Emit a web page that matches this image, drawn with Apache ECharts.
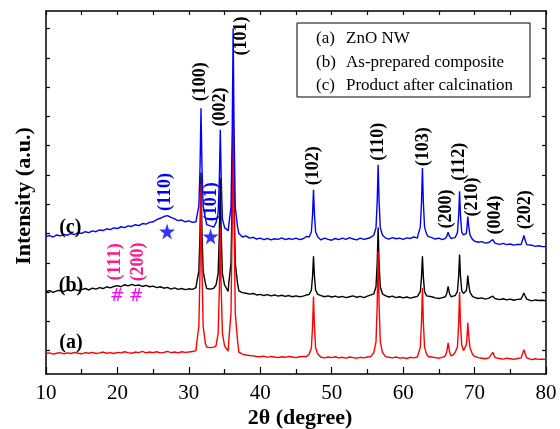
<!DOCTYPE html>
<html>
<head>
<meta charset="utf-8">
<script src="https://cdn.jsdelivr.net/npm/echarts@6/dist/echarts.min.js"></script>
<style>
  html, body { margin: 0; padding: 0; background: #fff; }
  #chart { width: 560px; height: 429px; }
</style>
</head>
<body>
<div id="chart"></div>
<script>
// 2theta sampling of the background (every 0.5 deg from 10 to 80)
const baseStart = 10
const baseStep = 0.5

// (a) ZnO NW - background
const baseA = [
  0.90,0.92,0.88,0.91,0.93,0.89,0.92,0.90,0.94,0.91,
  0.89,0.93,0.91,0.94,0.90,0.92,0.95,0.91,0.93,0.90,
  0.94,0.92,0.96,0.93,0.91,0.95,0.93,0.97,0.92,0.95,
  0.93,0.96,0.92,0.94,0.97,0.93,0.95,0.92,0.96,0.94,
  0.95,0.97,1.00,1.05,1.20,1.12,1.10,1.12,1.20,1.30,
  1.10,0.98,1.50,1.50,0.95,0.88,0.85,0.83,0.82,0.80,
  0.79,0.81,0.77,0.80,0.78,0.76,0.79,0.77,0.80,0.78,
  0.76,0.79,0.80,0.80,0.80,0.80,0.79,0.77,0.75,0.78,
  0.76,0.79,0.75,0.77,0.74,0.78,0.76,0.74,0.77,0.75,
  0.78,0.80,0.80,0.80,0.80,0.80,0.77,0.75,0.78,0.74,
  0.76,0.73,0.77,0.75,0.78,0.80,0.80,0.80,0.78,0.76,
  0.74,0.77,0.80,0.80,0.85,0.90,0.90,1.00,0.90,0.90,
  0.80,0.76,0.74,0.72,0.75,0.73,0.76,0.73,0.71,0.74,
  0.72,0.70,0.73,0.71,0.74,0.72,0.69,0.72,0.70,0.71,
  0.69
]
// (b) as-prepared composite - background
const baseB = [
  3.02,3.05,2.99,3.04,3.06,3.01,3.07,3.04,3.09,3.05,
  3.08,3.12,3.07,3.13,3.10,3.15,3.12,3.18,3.14,3.19,
  3.22,3.18,3.25,3.21,3.26,3.22,3.24,3.19,3.23,3.18,
  3.20,3.15,3.18,3.13,3.16,3.10,3.14,3.09,3.12,3.08,
  3.11,3.09,3.15,3.20,3.30,3.12,3.10,3.13,3.10,3.10,
  3.10,3.02,3.10,3.10,3.04,2.98,2.96,2.93,2.95,2.90,
  2.92,2.88,2.91,2.87,2.90,2.86,2.89,2.85,2.88,2.84,
  2.87,2.84,2.86,2.90,2.90,2.90,2.85,2.88,2.84,2.87,
  2.83,2.86,2.82,2.85,2.81,2.84,2.87,2.82,2.85,2.81,
  2.86,2.90,2.90,2.90,2.90,2.88,2.83,2.86,2.81,2.84,
  2.80,2.83,2.79,2.82,2.85,2.90,2.90,2.90,2.84,2.80,
  2.78,2.81,2.80,2.80,2.86,2.90,2.90,2.98,2.90,2.90,
  2.82,2.78,2.80,2.76,2.79,2.75,2.78,2.74,2.77,2.73,
  2.76,2.72,2.75,2.73,2.71,2.74,2.70,2.73,2.71,2.72,
  2.70
]
// (c) product after calcination - background
const baseC = [
  4.90,4.93,4.88,4.95,4.92,4.97,4.94,5.00,4.96,5.03,
  5.00,5.06,5.03,5.09,5.06,5.12,5.10,5.16,5.13,5.19,
  5.17,5.23,5.20,5.26,5.24,5.30,5.27,5.34,5.32,5.38,
  5.40,5.47,5.52,5.58,5.61,5.55,5.50,5.44,5.46,5.40,
  5.43,5.38,5.40,5.50,5.60,5.30,5.26,5.22,5.30,5.30,
  5.20,5.09,5.50,5.50,5.00,4.88,4.92,4.84,4.87,4.81,
  4.84,4.79,4.83,4.78,4.82,4.80,4.85,4.79,4.83,4.80,
  4.84,4.79,4.82,4.90,4.90,4.90,4.82,4.78,4.84,4.80,
  4.77,4.83,4.79,4.84,4.80,4.86,4.81,4.78,4.84,4.80,
  4.83,4.87,4.90,4.90,4.90,4.85,4.81,4.86,4.82,4.84,
  4.80,4.85,4.83,4.88,4.84,4.90,4.90,4.90,4.86,4.81,
  4.84,4.79,4.80,4.80,4.85,4.90,4.90,4.98,4.90,4.90,
  4.74,4.70,4.72,4.67,4.69,4.65,4.67,4.63,4.66,4.62,
  4.64,4.60,4.63,4.59,4.61,4.57,4.60,4.56,4.58,4.55,
  4.55
]

// reflections, read point by point: [2theta, intensity]
const peaksA = [
  [[31.1,1.26],[31.4,1.83],[31.57,3.84],[31.7,6.7],[31.83,3.84],[32.0,1.83],[32.3,1.26]],
  [[33.8,1.16],[34.1,1.59],[34.27,3.08],[34.4,5.2],[34.53,3.08],[34.7,1.59],[35.0,1.16]],
  [[35.6,1.37],[35.9,2.28],[36.07,5.46],[36.2,10.0],[36.33,5.46],[36.5,2.28],[36.8,1.37]],
  [[46.85,0.88],[47.15,1.09],[47.32,1.82],[47.45,2.85],[47.58,1.82],[47.75,1.09],[48.05,0.88]],
  [[55.9,0.94],[56.2,1.30],[56.37,2.58],[56.5,4.39],[56.63,2.58],[56.8,1.30],[57.1,0.94]],
  [[62.1,0.87],[62.4,1.11],[62.57,1.95],[62.7,3.14],[62.83,1.95],[63.0,1.11],[63.3,0.87]],
  [[65.9,0.82],[66.1,0.95],[66.3,1.26],[66.5,0.95],[66.7,0.82]],
  [[67.3,0.95],[67.6,1.12],[67.77,1.9],[67.9,3.0],[68.03,1.9],[68.2,1.2],[68.45,1.0]],
  [[68.6,0.95],[68.85,1.2],[68.95,1.5],[69.05,1.95],[69.18,1.5],[69.35,1.1],[69.7,0.88]],
  [[72.25,0.76],[72.55,0.94],[72.85,0.76]],
  [[76.5,0.75],[76.75,0.92],[76.9,1.03],[77.05,0.92],[77.3,0.75]]
]
const peaksB = [
  [[31.1,3.32],[31.4,3.71],[31.57,5.1],[31.7,7.08],[31.83,5.1],[32.0,3.71],[32.3,3.32]],
  [[33.8,3.24],[34.1,3.63],[34.27,4.98],[34.4,6.9],[34.53,4.98],[34.7,3.63],[35.0,3.24]],
  [[35.6,3.33],[35.9,3.99],[36.07,6.3],[36.2,9.6],[36.33,6.3],[36.5,3.99],[36.8,3.33]],
  [[46.85,2.92],[47.15,3.06],[47.32,3.54],[47.45,4.22],[47.58,3.54],[47.75,3.06],[48.05,2.92]],
  [[55.9,2.94],[56.2,3.18],[56.37,4.0],[56.5,5.2],[56.63,4.0],[56.8,3.18],[57.1,2.94]],
  [[62.1,2.87],[62.4,3.01],[62.57,3.51],[62.7,4.22],[62.83,3.51],[63.0,3.01],[63.3,2.87]],
  [[65.9,2.84],[66.1,2.94],[66.3,3.19],[66.5,2.94],[66.7,2.84]],
  [[67.3,2.88],[67.6,3.02],[67.77,3.54],[67.9,4.28],[68.03,3.54],[68.2,3.05],[68.45,2.95]],
  [[68.6,2.9],[68.85,3.05],[68.95,3.25],[69.05,3.56],[69.18,3.25],[69.35,3.0],[69.7,2.85]],
  [[72.25,2.78],[72.55,2.86],[72.85,2.78]],
  [[76.5,2.76],[76.75,2.88],[76.9,2.97],[77.05,2.88],[77.3,2.76]]
]
const peaksC = [
  [[31.1,5.55],[31.4,5.94],[31.57,7.32],[31.7,9.28],[31.83,7.32],[32.0,5.94],[32.3,5.55]],
  [[33.8,5.37],[34.1,5.7],[34.27,6.87],[34.4,8.54],[34.53,6.87],[34.7,5.5],[35.0,5.2]],
  [[35.6,5.3],[35.9,5.9],[36.07,8.5],[36.2,12.01],[36.33,8.5],[36.5,5.9],[36.8,5.25]],
  [[46.85,4.88],[47.15,5.05],[47.32,5.65],[47.45,6.49],[47.58,5.65],[47.75,5.05],[48.05,4.88]],
  [[55.9,4.95],[56.2,5.2],[56.37,6.1],[56.5,7.35],[56.63,6.1],[56.8,5.2],[57.1,4.95]],
  [[62.1,4.97],[62.4,5.21],[62.57,6.05],[62.7,7.24],[62.83,6.05],[63.0,5.21],[63.3,4.97]],
  [[65.9,4.83],[66.1,4.9],[66.3,5.04],[66.5,4.9],[66.7,4.83]],
  [[67.3,4.86],[67.6,5.03],[67.77,5.6],[67.9,6.44],[68.03,5.6],[68.2,5.05],[68.45,4.95]],
  [[68.6,4.9],[68.85,5.0],[68.95,5.25],[69.05,5.58],[69.18,5.25],[69.35,4.95],[69.7,4.8]],
  [[72.25,4.67],[72.55,4.79],[72.85,4.67]],
  [[76.5,4.62],[76.75,4.8],[76.9,4.93],[77.05,4.8],[77.3,4.62]]
]

// peak labels: [text, 2theta, intensity, colour]
const hklLabels = [
  ['(100)', 31.57, 10.18, '#000'],
  ['(002)', 34.37, 9.32, '#000'],
  ['(101)', 37.38, 11.75, '#000'],
  ['(102)', 47.4, 7.31, '#000'],
  ['(110)', 56.5, 8.13, '#000'],
  ['(103)', 62.8, 7.96, '#000'],
  ['(200)', 66.03, 5.84, '#000'],
  ['(112)', 67.85, 7.45, '#000'],
  ['(210)', 69.67, 6.25, '#000'],
  ['(004)', 72.89, 5.63, '#000'],
  ['(202)', 77.1, 5.81, '#000'],
  ['(110)', 26.67, 6.42, '#0000ff'],
  ['(101)', 33.18, 6.08, '#0000ff'],
  ['(111)', 19.67, 4.03, '#ff1a8c'],
  ['(200)', 22.89, 4.03, '#ff1a8c']
]
const hashMarks = [[19.95, 2.83], [22.6, 2.83]]
const starMarks = [[26.95, 5.07], [33.04, 4.9]]
const curveTags = [['(a)', 13.5, 1.26], ['(b)', 13.5, 3.21], ['(c)', 13.4, 5.19]]
const legendRows = [['(a)', 'ZnO NW'], ['(b)', 'As-prepared composite'], ['(c)', 'Product after calcination']]

const xTicks = [10, 80, 10]
const yMin = 0.2, yMax = 12.6
const yTicks = [1, 2, 3, 4, 5, 6, 7, 8, 9, 10, 11, 12]

const serif = "'Liberation Serif', 'Times New Roman', serif"

function buildCurve (base, peaks) {
  let wins = peaks.map(p => [p[0][0], p[p.length - 1][0]])
  let pts = base.map((y, i) => [baseStart + i * baseStep, y])
    .filter(p => !wins.some(w => p[0] >= w[0] && p[0] <= w[1]))
  peaks.forEach(p => { pts = pts.concat(p) })
  return pts.sort((a, b) => a[0] - b[0])
}

let chart = echarts.init(document.getElementById('chart'))

let lineSeries = (name, data, color) => ({
  name: name,
  type: 'line',
  data: data,
  showSymbol: false,
  symbol: 'none',
  sampling: false,
  lineStyle: { color: color, width: 1.4 },
  silent: true
})

let axisLine = { show: true, onZero: false, lineStyle: { color: '#000', width: 1.5 } }

chart.setOption({
  animation: false,
  backgroundColor: '#fff',
  grid: { left: 46, right: 14, top: 11, bottom: 55 },
  xAxis: [
    {
      type: 'value', position: 'bottom',
      min: xTicks[0], max: xTicks[1], interval: xTicks[2],
      axisLine: axisLine,
      axisTick: { inside: true, length: 7, lineStyle: { color: '#000', width: 1.2 } },
      minorTick: { show: true, splitNumber: 2, length: 5, lineStyle: { color: '#000', width: 1.2 } },
      axisLabel: { color: '#000', fontFamily: serif, fontSize: 21, margin: 9 },
      splitLine: { show: false }
    },
    {
      type: 'value', position: 'top',
      min: xTicks[0], max: xTicks[1], interval: xTicks[2] / 2,
      axisLine: axisLine,
      axisTick: { inside: true, length: 4, lineStyle: { color: '#000', width: 1.2 } },
      axisLabel: { show: false },
      splitLine: { show: false }
    }
  ],
  yAxis: [
    {
      type: 'value', position: 'left', min: yMin, max: yMax,
      axisLine: axisLine,
      axisTick: { inside: true, length: 4, customValues: yTicks, lineStyle: { color: '#000', width: 1.2 } },
      axisLabel: { show: false },
      splitLine: { show: false }
    },
    {
      type: 'value', position: 'right', min: yMin, max: yMax,
      axisLine: axisLine,
      axisTick: { inside: true, length: 4, customValues: yTicks, lineStyle: { color: '#000', width: 1.2 } },
      axisLabel: { show: false },
      splitLine: { show: false }
    }
  ],
  series: [
    lineSeries('b', buildCurve(baseB, peaksB), '#000000'),
    lineSeries('a', buildCurve(baseA, peaksA), '#ff0000'),
    lineSeries('c', buildCurve(baseC, peaksC), '#0000ff'),
    {
      type: 'scatter',
      data: starMarks,
      symbol: 'path://M50,0 L61,35 L98,35 L68,57 L79,91 L50,70 L21,91 L32,57 L2,35 L39,35 Z',
      symbolSize: 16,
      itemStyle: { color: '#0000ff' },
      silent: true,
      z: 5
    }
  ]
})

// texts placed from data coordinates
let toPx = (x, y) => chart.convertToPixel({ xAxisIndex: 0, yAxisIndex: 0 }, [x, y])
let graphics = []
hklLabels.forEach(l => {
  let p = toPx(l[1], l[2])
  graphics.push({
    type: 'text', x: p[0], y: p[1], rotation: Math.PI / 2, z: 10,
    style: { text: l[0], fill: l[3], font: 'bold 18px ' + serif, align: 'center', verticalAlign: 'middle' }
  })
})
hashMarks.forEach(h => {
  let p = toPx(h[0], h[1])
  graphics.push({
    type: 'text', x: p[0], y: p[1], z: 10,
    style: { text: '#', fill: '#ff00ff', font: '17px DejaVu Sans', align: 'center', verticalAlign: 'middle' }
  })
})
curveTags.forEach(t => {
  let p = toPx(t[1], t[2])
  graphics.push({
    type: 'text', x: p[0], y: p[1], z: 10,
    style: { text: t[0], fill: '#000', font: 'bold 20px ' + serif, align: 'center', verticalAlign: 'middle' }
  })
})
// legend box
graphics.push({
  type: 'rect', shape: { x: 297, y: 23, width: 233, height: 74 }, z: 10,
  style: { fill: '#fff', stroke: '#000', lineWidth: 1 }
})
legendRows.forEach((r, i) => {
  graphics.push({
    type: 'text', x: 316, y: 39 + i * 23.5, z: 11,
    style: { text: r[0], fill: '#000', font: '17px ' + serif, verticalAlign: 'middle' }
  })
  graphics.push({
    type: 'text', x: 346, y: 39 + i * 23.5, z: 11,
    style: { text: r[1], fill: '#000', font: '17px ' + serif, verticalAlign: 'middle' }
  })
})
// axis titles
graphics.push({
  type: 'text', x: 300, y: 418, z: 10,
  style: { text: '2θ (degree)', fill: '#000', font: 'bold 22px ' + serif, align: 'center', verticalAlign: 'middle' }
})
graphics.push({
  type: 'text', x: 24, y: 196, rotation: Math.PI / 2, z: 10,
  style: { text: 'Intensity (a.u.)', fill: '#000', font: 'bold 22px ' + serif, align: 'center', verticalAlign: 'middle' }
})

chart.setOption({ graphic: graphics })
</script>
</body>
</html>
